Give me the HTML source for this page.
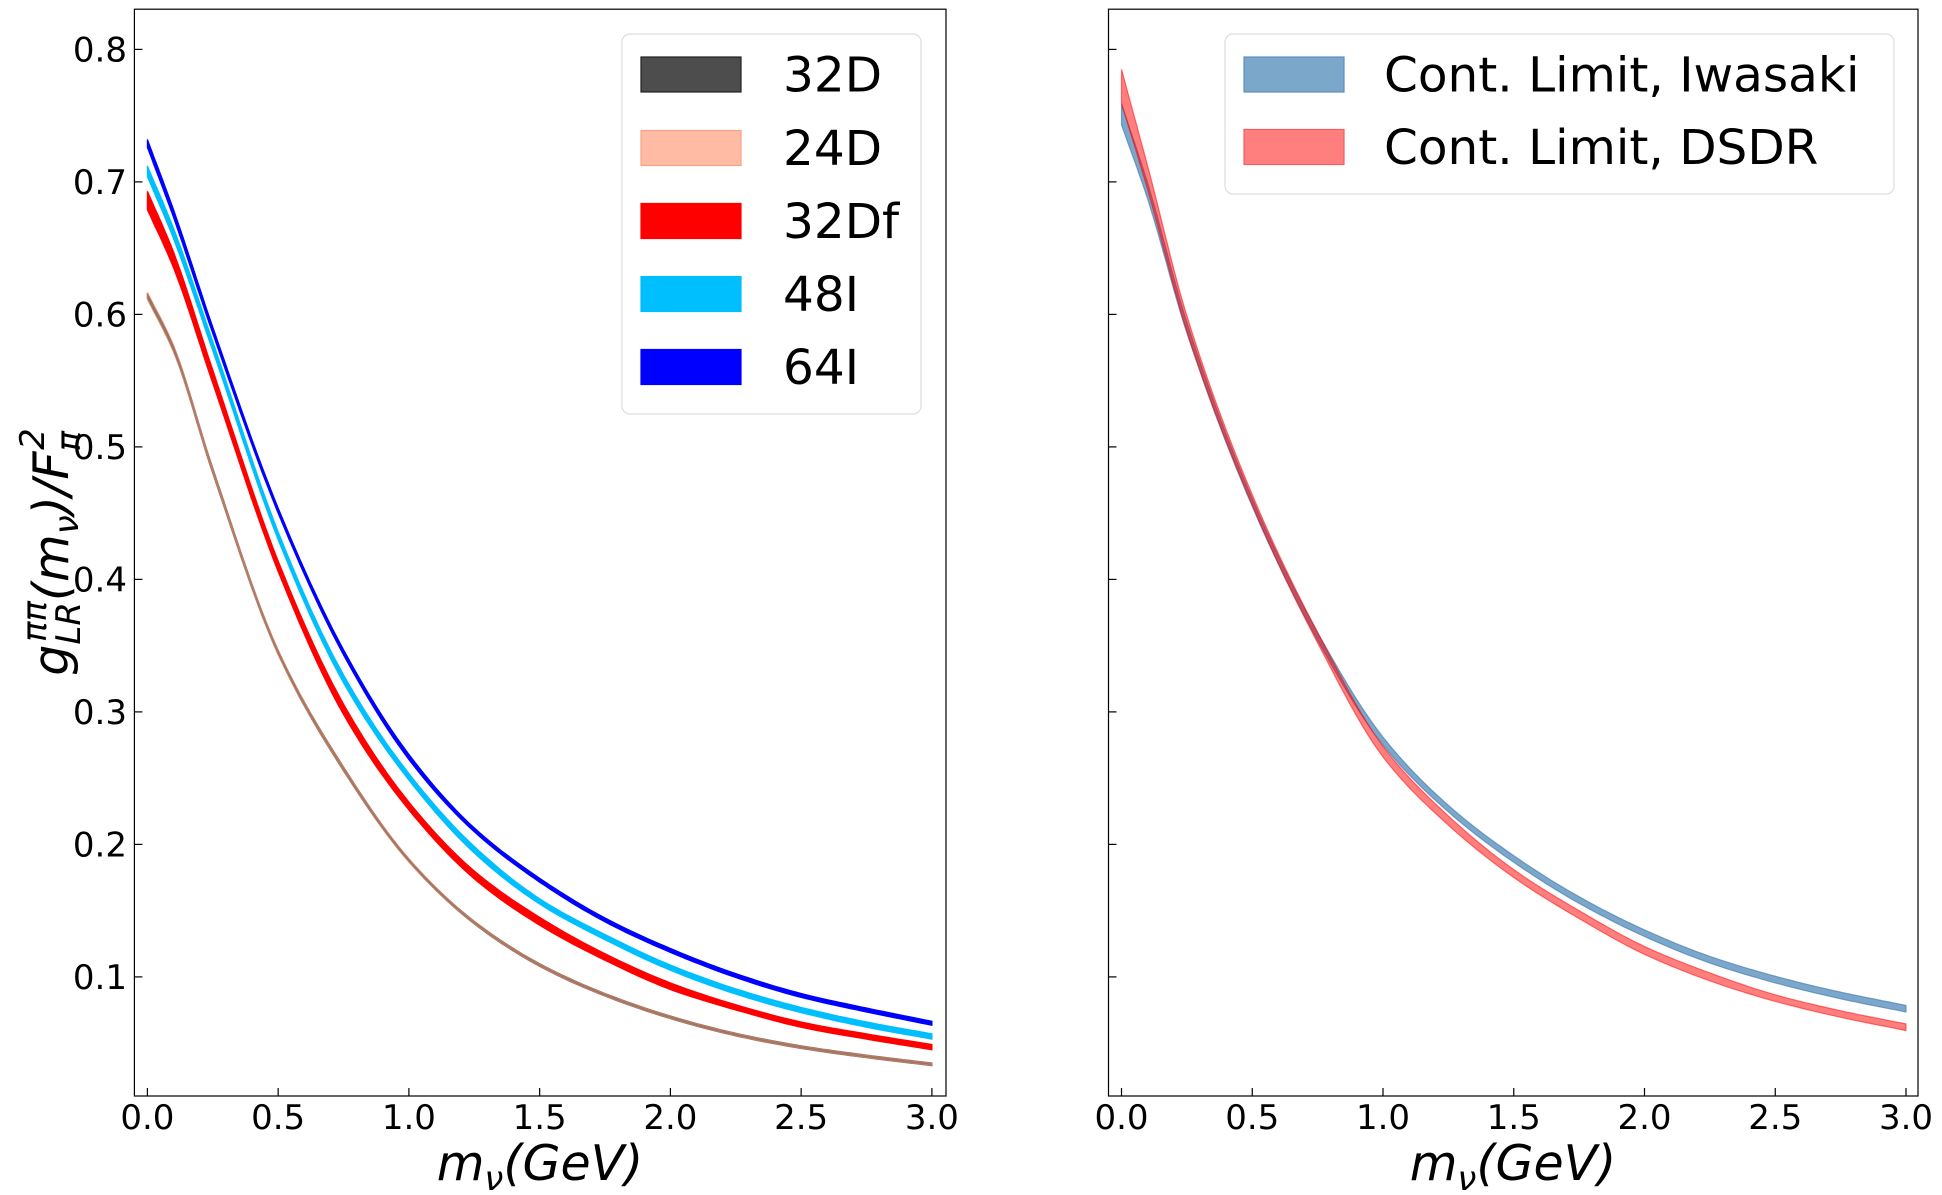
<!DOCTYPE html>
<html><head><meta charset="utf-8"><style>
html,body{margin:0;padding:0;background:#fff}
svg{display:block;font-family:"DejaVu Sans","Liberation Sans",sans-serif}
</style></head><body>
<svg id="chart" width="1942" height="1195" viewBox="0 0 1942 1195" xmlns="http://www.w3.org/2000/svg">
<rect width="1942" height="1195" fill="#fff"/>
<g id="left"></g>
<g id="right"></g>
<text transform="translate(68,552) rotate(-90)" text-anchor="middle" font-size="49" font-style="italic">g<tspan font-size="34" dy="12">LR</tspan><tspan font-size="34" dx="-40" dy="-34">ππ</tspan><tspan dy="22">(m</tspan><tspan font-size="34" dy="10">ν</tspan><tspan dy="-10">)/F</tspan><tspan font-size="34" dy="12">π</tspan><tspan font-size="34" dx="-19" dy="-36">2</tspan></text>
<text x="540" y="1180" text-anchor="middle" font-size="49" font-style="italic">m<tspan font-size="34" dy="10">ν</tspan><tspan dy="-10">(GeV)</tspan></text>
<text x="1513" y="1180" text-anchor="middle" font-size="49" font-style="italic">m<tspan font-size="34" dy="10">ν</tspan><tspan dy="-10">(GeV)</tspan></text>
</svg>
<script>
const xs = [0,0.1,0.25,0.5,0.75,1,1.25,1.5,1.75,2,2.25,2.5,2.75,3];
const s32D = [0.614,0.574,0.482,0.345,0.257,0.188,0.141,0.109,0.0865,0.0695,0.0565,0.047,0.040,0.034];
const s24D = [0.614,0.574,0.482,0.345,0.257,0.188,0.141,0.109,0.0865,0.0695,0.0565,0.047,0.040,0.034];
const s32Df = [0.686,0.641,0.553,0.410,0.302,0.229,0.177,0.142,0.115,0.093,0.077,0.064,0.055,0.047];
const s48I = [0.708,0.661,0.576,0.433,0.325,0.251,0.196,0.157,0.130,0.107,0.089,0.075,0.064,0.055];
const s64I = [0.729,0.676,0.588,0.452,0.345,0.266,0.211,0.173,0.143,0.120,0.101,0.086,0.075,0.065];
const sIwa = [0.751,0.693,0.590,0.458,0.357,0.278,0.227,0.189,0.158,0.133,0.113,0.098,0.086,0.076];
const sDSDR = [0.772,0.703,0.593,0.460,0.356,0.270,0.218,0.178,0.147,0.120,0.100,0.084,0.072,0.062];
const e32D = [0.002,0.002,0.002,0.0015,0.0015,0.001,0.001,0.001,0.001,0.001,0.001,0.001,0.001,0.001];
const e24D = [0.003,0.003,0.002,0.002,0.0015,0.0015,0.001,0.001,0.001,0.001,0.001,0.001,0.001,0.001];
const e32Df = [0.007,0.006,0.005,0.004,0.004,0.003,0.003,0.003,0.0025,0.0025,0.002,0.002,0.002,0.002];
const e48I = [0.004,0.004,0.0035,0.003,0.003,0.0025,0.0025,0.002,0.002,0.002,0.002,0.002,0.002,0.002];
const e64I = [0.003,0.003,0.0025,0.002,0.002,0.002,0.0015,0.0015,0.0015,0.0015,0.0015,0.0015,0.0015,0.0015];
const eIwa = [0.008,0.006,0.004,0.003,0.003,0.003,0.0025,0.0025,0.0025,0.0025,0.0025,0.0025,0.0025,0.0025];
const eDSDR = [0.013,0.009,0.006,0.004,0.004,0.004,0.0035,0.003,0.003,0.003,0.003,0.0025,0.0025,0.0025];
const xTicks = [0,0.5,1,1.5,2,2.5,3];
const xTickLabels = ["0.0","0.5","1.0","1.5","2.0","2.5","3.0"];
const yTicks = [0.1,0.2,0.3,0.4,0.5,0.6,0.7,0.8];
const yTickLabels = ["0.1","0.2","0.3","0.4","0.5","0.6","0.7","0.8"];

const NS="http://www.w3.org/2000/svg";
function mk(tag,attrs,parent){const e=document.createElementNS(NS,tag);for(const k in attrs)e.setAttribute(k,attrs[k]);parent.appendChild(e);return e;}
function yScale(v){return 49.4+(0.8-v)*1325;}
function makeX(x0){return v=>x0+v*261.5;}
function smoothPts(px,py){
  const n=px.length,d=[],m=[];
  for(let i=0;i<n-1;i++)d.push((py[i+1]-py[i])/(px[i+1]-px[i]));
  m[0]=d[0];m[n-1]=d[n-2];
  for(let i=1;i<n-1;i++){
    if(d[i-1]*d[i]<=0)m[i]=0;
    else{const h0=px[i]-px[i-1],h1=px[i+1]-px[i];const w1=2*h1+h0,w2=h1+2*h0;m[i]=(w1+w2)/(w1/d[i-1]+w2/d[i]);}
  }
  const out=[];
  for(let i=0;i<n-1;i++){
    const h=px[i+1]-px[i];
    for(let k=0;k<12;k++){
      const t=k/12,t2=t*t,t3=t2*t;
      const y=(2*t3-3*t2+1)*py[i]+(t3-2*t2+t)*h*m[i]+(-2*t3+3*t2)*py[i+1]+(t3-t2)*h*m[i+1];
      out.push([px[i]+t*h,y]);
    }
  }
  out.push([px[n-1],py[n-1]]);
  return out;
}
function band(g,xS,vals,errs,color,op,name){
  const px=xs.map(xS);
  const up=smoothPts(px,vals.map((v,i)=>yScale(v+errs[i])));
  const lo=smoothPts(px,vals.map((v,i)=>yScale(v-errs[i]))).reverse();
  const d='M'+up.concat(lo).map(p=>p[0].toFixed(1)+','+p[1].toFixed(1)).join('L')+'Z';
  const p=mk('path',{d:d,fill:color,'fill-opacity':op,stroke:color,'stroke-opacity':op,'stroke-width':1.2},g);
  
  
}
function axes(g,left,right,x0,labels){
  const xS=makeX(x0);
  const fr=mk('rect',{x:left,y:9.2,width:right-left,height:1096-9.2,fill:'none',stroke:'#000','stroke-width':1.2},g);
  
  
  xTicks.forEach((t,i)=>{
    const x=xS(t);
    const l=mk('line',{x1:x,x2:x,y1:1096,y2:1088,stroke:'#000','stroke-width':1.2},g);
    
    
    const tx=mk('text',{x:x,y:1129,'text-anchor':'middle','font-size':34},g);
    tx.textContent=xTickLabels[i];
    
    
  });
  yTicks.forEach((t,i)=>{
    const y=yScale(t);
    const l=mk('line',{x1:left,x2:left+8,y1:y,y2:y,stroke:'#000','stroke-width':1.2},g);
    
    
    if(labels){
      const tx=mk('text',{x:127,y:y+12,'text-anchor':'end','font-size':34},g);
      tx.textContent=yTickLabels[i];
      
      
    }
  });
  return xS;
}
function legend(g,x,y,w,h,items,name){
  const lg=mk('g',{},g);
  
  
  mk('rect',{x:x,y:y,width:w,height:h,rx:8,fill:'#fff','fill-opacity':0.8,stroke:'#ddd','stroke-width':1.2},lg);
  items.forEach(it=>{
    const r=mk('rect',{x:it.px,y:it.cy-17.5,width:100,height:35,fill:it.c,'fill-opacity':it.op,stroke:it.sc||it.c,'stroke-width':1.2},lg);
    
    
    const t=mk('text',{x:it.tx,y:it.cy+17,'font-size':48.5},lg);
    t.textContent=it.label;
    
    
  });
}
const L=document.getElementById('left'), R=document.getElementById('right');
const xL=makeX(147.4), xR=makeX(1121.5);
band(L,xL,s32D,e32D,'#4d4d4d',1,'band-32D');
band(L,xL,s24D,e24D,'#ffa07a',0.45,'band-24D');
band(L,xL,s32Df,e32Df,'#ff0000',1,'band-32Df');
band(L,xL,s48I,e48I,'#00bfff',1,'band-48I');
band(L,xL,s64I,e64I,'#0000ff',1,'band-64I');
axes(L,134.4,946,147.4,true);
legend(L,622,34,299,380,[
 {label:'32D',c:'#4d4d4d',op:1,sc:'#222',cy:74.5,px:641,tx:783},
 {label:'24D',c:'#ffbba4',op:1,sc:'#f5a58a',cy:148,px:641,tx:783},
 {label:'32Df',c:'#ff0000',op:1,cy:221,px:641,tx:783},
 {label:'48I',c:'#00bfff',op:1,cy:294,px:641,tx:783},
 {label:'64I',c:'#0000ff',op:1,cy:367,px:641,tx:783}],'legend-left');
band(R,xR,sIwa,eIwa,'#4682b4',0.7,'band-iwasaki');
band(R,xR,sDSDR,eDSDR,'#ff0000',0.5,'band-dsdr');
axes(R,1108.5,1918,1121.5,false);
legend(R,1225,34,669,160,[
 {label:'Cont. Limit, Iwasaki',c:'#7ba7cb',op:1,sc:'#5d8fbf',cy:74.5,px:1244,tx:1384},
 {label:'Cont. Limit, DSDR',c:'#ff7f7f',op:1,sc:'#f06060',cy:147,px:1244,tx:1384}],'legend-right');
</script>
</body></html>
